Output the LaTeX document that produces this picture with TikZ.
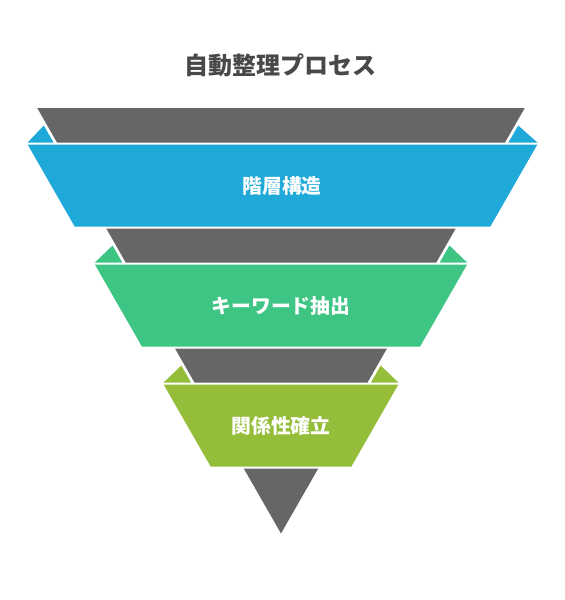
\documentclass[tikz,border=0pt]{standalone}
\usepackage{fontspec}
\newfontfamily\cjk{Noto Sans CJK JP}
\definecolor{fgray}{HTML}{666666}
\definecolor{fblue}{HTML}{1EA9D9}
\definecolor{fgreen}{HTML}{3EC584}
\definecolor{folive}{HTML}{94BE3A}
\definecolor{ftitle}{HTML}{484848}
\newcommand\fpiece[2]{% gray slice from y=#1 to y=#2
  \fill[fgray] ({281-h(#1)},#1) -- ({281+h(#1)},#1) -- ({281+h(#2)},#2) -- ({281-h(#2)},#2) -- cycle;}
\newcommand\fband[4]{% colour, centre, top, bottom
  \fill[#1] ({#2-h(#3)-32},#3) -- ({#2+h(#3)+32},#3) -- ({#2+h(#4)+32},#4) -- ({#2-h(#4)-32},#4) -- cycle;}
\newcommand\ffold[4]{% colour, centre, gray bottom, band top
  \fill[#1] ({#2-h(#4)-32},#3) -- ({281-h(#3)-3.5},#3) -- ({281-h(#3)-3.5-9.7},{#3-17}) -- cycle;
  \fill[#1] ({#2+h(#4)+32},#3) -- ({281+h(#3)+3.5},#3) -- ({281+h(#3)+3.5+9.7},{#3-17}) -- cycle;}
\begin{document}
\begin{tikzpicture}[x=1pt,y=-1pt,
  declare function={h(\t)=0.57286*(533.5-\t);},
  titletext/.style={text=ftitle,font=\cjk\bfseries\fontsize{24}{24}\selectfont,inner sep=0pt},
  bandlabel/.style={text=white,font=\cjk\bfseries\fontsize{19.8}{19.8}\selectfont,inner sep=0pt}]
\useasboundingbox (0,0) rectangle (565,600);
% gray inverted triangle slices
\fpiece{108}{142.5}
\fpiece{228.5}{262.5}
\fpiece{348.5}{382.5}
\fill[fgray] ({281-h(468.5)},468.5) -- ({281+h(468.5)},468.5) -- (281,533.5) -- cycle;
% folds
\ffold{fblue}{282.5}{142.5}{144.5}
\ffold{fgreen}{281}{262.5}{264.5}
\ffold{folive}{281}{382.5}{384.5}
% bands
\fband{fblue}{282.5}{144.5}{226.5}
\fband{fgreen}{281}{264.5}{346.5}
\fband{folive}{281}{384.5}{466.5}
% texts
\node[titletext] (title) at (280,65) {自動整理プロセス};
\node[bandlabel] (l1) at (282,186) {階層構造};
\node[bandlabel] (l2) at (281,305.5) {キーワード抽出};
\node[bandlabel] (l3) at (281,425.5) {関係性確立};
\end{tikzpicture}
\end{document}
